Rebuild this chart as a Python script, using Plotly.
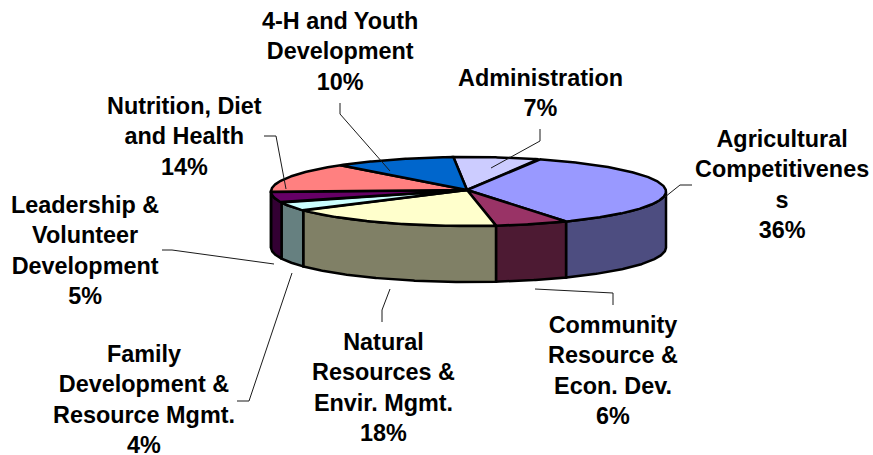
import numpy as np
import plotly.graph_objects as go

categories = ["Administration", "Agricultural Competitiveness", "Community Resource & Econ. Dev.",
              "Natural Resources & Envir. Mgmt.", "Family Development & Resource Mgmt.",
              "Leadership & Volunteer Development", "Nutrition, Diet and Health", "4-H and Youth Development"]
percent = [7, 36, 6, 18, 4, 5, 14, 10]
label_lines = ["Administration", "Agricultural<br>Competitivenes<br>s", "Community<br>Resource &<br>Econ. Dev.",
               "Natural<br>Resources &<br>Envir. Mgmt.", "Family<br>Development &<br>Resource Mgmt.",
               "Leadership &<br>Volunteer<br>Development", "Nutrition, Diet<br>and Health", "4-H and Youth<br>Development"]
top_colors = ["#CCCCFF", "#9999FF", "#993366", "#FFFFCC", "#CCFFFF", "#660066", "#FF8080", "#0066CC"]
side_colors = ["#666680", "#4D4D80", "#4D1A33", "#808066", "#668080", "#330033", "#804040", "#003366"]

# pie geometry (pixels)
CX, CY, RX, RY, DEPTH = 468.5, 191.5, 197.5, 34.5, 56
APEX = (467.0, 190.0)
START = -4.4
LW = 2.5
FONT = dict(family="Liberation Sans, Arial, sans-serif", size=23.4, color="#000000")

# label centres (pixels)
label_pos = [(540, 92.5), (782, 184.5), (613, 370.5), (383, 387.5), (144, 399.5), (85, 250.5), (184, 136), (340, 51)]
# leader polylines (pixels)
leaders = [
    [(540, 129), (540, 141), (491, 168)],
    [(692, 185), (680, 185), (665, 197)],
    [(613, 305), (613, 293), (535, 289)],
    [(382, 322), (382, 310), (390, 289)],
    [(237, 401), (249, 401), (292, 273)],
    [(162, 250), (172, 250), (274, 264)],
    [(264, 136), (276, 136), (286, 189)],
    [(340, 103), (340, 114), (390, 171)],
]


def arc(a0, a1, dy=0.0):
    t = np.radians(np.linspace(a0, a1, max(int(abs(a1 - a0) * 2), 2)))
    return CX + RX * np.sin(t), CY - RY * np.cos(t) + dy


edges = START + np.concatenate([[0], np.cumsum(percent)]) * 360.0 / sum(percent)
fig = go.Figure()

# visible outer wall: the part of each slice that lies in the front half
for i in range(len(percent)):
    a0, a1 = max(edges[i], 90.0), min(edges[i + 1], 270.0)
    if a1 <= a0:
        continue
    xt, yt = arc(a0, a1)
    xb, yb = arc(a1, a0, DEPTH)
    fig.add_trace(go.Scatter(
        x=np.r_[xt, xb, xt[0]], y=np.r_[yt, yb, yt[0]], mode="lines", fill="toself",
        fillcolor=side_colors[i], line=dict(color="#000000", width=LW), hoverinfo="skip", showlegend=False))

# top face
for i in range(len(percent)):
    xa, ya = arc(edges[i], edges[i + 1])
    fig.add_trace(go.Scatter(
        x=np.r_[APEX[0], xa, APEX[0]], y=np.r_[APEX[1], ya, APEX[1]], mode="lines", fill="toself",
        fillcolor=top_colors[i], line=dict(color="#000000", width=LW), name=categories[i],
        hoverinfo="name", showlegend=False))

# leader lines
for pts in leaders:
    fig.add_trace(go.Scatter(
        x=[p[0] for p in pts], y=[p[1] for p in pts], mode="lines",
        line=dict(color="#1a1a1a", width=1), hoverinfo="skip", showlegend=False))

annotations = [
    dict(x=pos[0], y=pos[1], xref="x", yref="y", xanchor="center", yanchor="middle",
         text=f"<b>{txt}<br>{pct}%</b>", showarrow=False, font=FONT, align="center")
    for pos, txt, pct in zip(label_pos, label_lines, percent)
]

fig.update_layout(
    width=873, height=455, margin=dict(l=0, r=0, t=0, b=0),
    paper_bgcolor="#FFFFFF", plot_bgcolor="#FFFFFF", annotations=annotations,
    xaxis=dict(range=[0, 873], visible=False, fixedrange=True),
    yaxis=dict(range=[455, 0], visible=False, fixedrange=True),
)
fig.write_html("out.html", config={"displayModeBar": False},
               post_script="document.documentElement.style.overflow='hidden';document.body.style.margin='0';")
